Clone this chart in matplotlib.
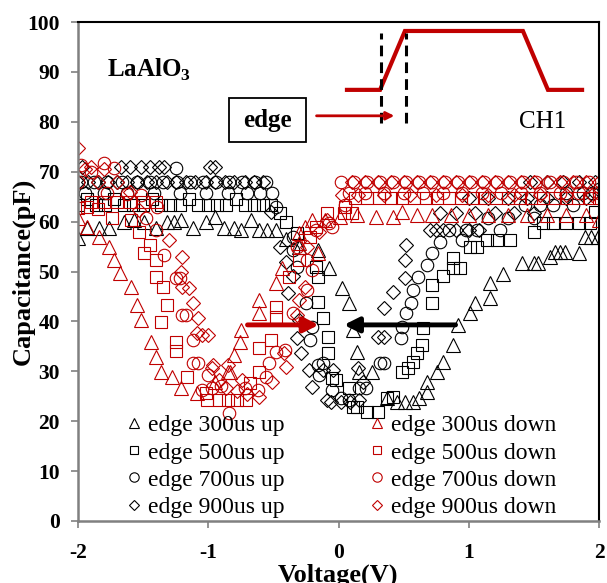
import numpy as np
import matplotlib
matplotlib.use("Agg")
import matplotlib.pyplot as plt
from matplotlib.patches import Rectangle

plt.rcParams['font.family'] = ['Liberation Serif', 'DejaVu Serif']
plt.rcParams['mathtext.fontset'] = 'custom'
plt.rcParams['mathtext.rm'] = 'Liberation Serif:bold'
plt.rcParams['mathtext.bf'] = 'Liberation Serif:bold'
plt.rcParams['axes.unicode_minus'] = False

RED = '#C00000'

# ---- up sweeps (black) ----
v_300_up = [-2.0, -1.93, -1.84, -1.76, -1.65, -1.57, -1.49, -1.4, -1.32, -1.26, -1.21, -1.12,
            -1.02, -0.95, -0.88, -0.8, -0.75, -0.67, -0.61, -0.55, -0.48, -0.4, -0.3, -0.16,
            -0.07, 0.03, 0.08, 0.11, 0.14, 0.16, 0.26, 0.37, 0.45, 0.51, 0.57, 0.62, 0.68,
            0.68, 0.76, 0.8, 0.88, 0.92, 1.01, 1.05, 1.16, 1.16, 1.26, 1.41, 1.5, 1.53, 1.62,
            1.66, 1.7, 1.74, 1.85, 1.89, 1.94, 1.99]
c_300_up = [56.7, 58.7, 58.7, 58.7, 60.0, 60.3, 60.0, 58.7, 60.0, 60.0, 60.3, 58.7,
            60.0, 61.0, 58.7, 58.7, 58.3, 60.3, 58.3, 58.3, 58.3, 56.5, 55.0, 54.3,
            50.7, 46.7, 43.7, 38.3, 33.9, 29.9, 29.9, 24.6, 23.8, 23.8, 23.8, 24.6, 25.9,
            27.9, 29.9, 31.9, 35.3, 39.3, 41.7, 43.7, 44.7, 47.7, 49.5, 51.7, 51.7, 51.7, 52.9,
            53.9, 53.9, 53.9, 53.7, 57.0, 57.0, 57.0]

v_500_up = [-2.0, -1.93, -1.86, -1.79, -1.72, -1.65, -1.58, -1.5, -1.43, -1.36, -1.29, -1.22,
            -1.15, -1.08, -1.0, -0.93, -0.86, -0.79, -0.72, -0.65, -0.58, -0.52, -0.45, -0.4,
            -0.32, -0.17, -0.16, -0.16, -0.12, -0.08, -0.08, -0.05, -0.02, 0.08, 0.11, 0.14,
            0.22, 0.3, 0.37, 0.42, 0.49, 0.53, 0.57, 0.6, 0.64, 0.65, 0.72, 0.72, 0.8, 0.88,
            0.88, 0.93, 1.01, 1.06, 1.14, 1.22, 1.32, 1.5, 1.57, 1.65, 1.75, 1.85, 1.93, 1.97]
c_500_up = [63.3, 64.5, 63.3, 63.3, 64.5, 63.3, 63.3, 63.3, 64.5, 63.3, 63.3, 63.3,
            64.5, 63.3, 63.3, 63.3, 63.3, 64.5, 63.3, 63.3, 63.3, 63.3, 61.7, 60.0,
            57.7, 50.9, 48.9, 43.9, 40.7, 36.9, 33.7, 28.7, 28.3, 26.7, 22.8, 22.8,
            21.8, 21.8, 24.6, 24.8, 29.9, 30.7, 31.9, 33.7, 35.3, 38.7, 43.7, 47.3, 49.0, 50.7,
            52.7, 50.7, 55.0, 55.0, 56.3, 56.3, 56.3, 58.0, 59.7, 59.7, 59.7, 59.7, 59.7, 62.0]

v_700_up = [-1.98, -1.88, -1.78, -1.66, -1.55, -1.45, -1.35, -1.24, -1.14, -1.04, -0.94, -0.84,
            -0.74, -0.64, -0.56, -1.95, -1.8, -1.62, -1.42, -1.22, -1.02, -0.85, -0.7, -0.6,
            -0.51, -1.25, -0.48, -0.35, -0.35, -0.32, -0.25, -0.22, -0.2, -0.16, -0.12, -0.15,
            -0.05, 0.02, 0.08, 0.16, 0.21, 0.32, 0.35, 0.48, 0.49, 0.52, 0.56, 0.57, 0.61,
            0.68, 0.72, 0.78, 0.85, 0.95, 0.98, 1.06, 1.15, 1.24, 1.3, 1.43, 1.5, 1.55, 1.65,
            1.75, 1.8, 1.88, 1.95, 2.0]
c_700_up = [68.0, 68.0, 68.0, 68.0, 68.0, 68.0, 68.0, 68.0, 68.0, 68.0, 68.0, 68.0,
            68.0, 68.0, 68.0, 65.7, 65.7, 65.7, 65.7, 65.7, 65.7, 65.7, 65.7, 65.7,
            65.7, 70.7, 63.0, 56.9, 54.3, 50.9, 43.7, 36.3, 38.9, 31.3, 31.7, 29.3,
            26.3, 24.6, 24.2, 26.7, 26.7, 31.7, 31.7, 36.7, 38.9, 41.7, 43.7, 46.3, 48.9,
            51.3, 53.7, 55.9, 58.3, 56.3, 58.3, 58.3, 60.7, 58.3, 60.7, 63.3, 60.7, 63.3, 63.3,
            65.7, 63.3, 65.7, 65.7, 66.5]

v_900_up = [-1.97, -1.67, -1.6, -1.52, -1.45, -1.38, -1.34, -0.99, -0.95,
            -2.0, -1.92, -1.85, -1.77, -1.7, -1.62, -1.55, -1.47, -1.4, -1.32, -1.25, -1.17,
            -1.1, -1.02, -0.95, -0.87, -0.8, -0.72, -0.65, -0.58, -0.52, -0.45, -0.4, -0.35,
            -0.39, -0.3, -0.32, -0.29, -0.23, -0.2, -0.12, -0.09, -0.04, -0.06, 0.02, 0.09,
            0.16, 0.15, 0.19, 0.3, 0.35, 0.35, 0.42, 0.51, 0.51, 0.52, 0.7, 0.75, 0.8, 0.9,
            1.0, 1.08, 0.78, 0.9, 1.05, 1.2, 1.35, 1.5, 1.0, 1.15, 1.3, 1.45, 1.6, 1.75, 1.9,
            1.47, 1.6, 1.72, 1.85, 1.97]
c_900_up = [71.0, 71.0, 71.0, 71.0, 71.0, 71.0, 71.0, 71.0, 71.0,
            68.0, 68.0, 68.0, 68.0, 68.0, 68.0, 68.0, 68.0, 68.0, 68.0, 68.0, 68.0,
            68.0, 68.0, 68.0, 68.0, 68.0, 68.0, 68.0, 68.0, 62.0, 55.0, 52.0, 49.0,
            45.7, 40.3, 36.7, 33.7, 30.3, 26.9, 30.3, 24.2, 30.3, 23.8, 23.8, 23.8,
            24.2, 30.7, 27.9, 36.9, 36.9, 42.7, 45.9, 48.7, 52.3, 55.3, 58.3, 58.3, 58.3, 58.3,
            58.3, 58.3, 61.7, 61.7, 61.7, 61.7, 61.7, 61.7, 64.7, 64.7, 64.7, 64.7, 64.7, 64.7, 64.7,
            68.0, 68.0, 68.0, 68.0, 68.0]

# ---- down sweeps (red) ----
v_300_dn = [2.0, 1.9, 1.75, 1.6, 1.45, 1.3, 1.15, 1.0, 0.86, 0.72, 0.6, 0.49, 0.42, 0.29,
            0.14, 0.01, -0.1, -0.2, -0.26, -0.3, -0.16, -0.3, -0.43, -0.48, -0.61, -0.61,
            -0.75, -0.76, -0.8, -0.83, -0.85, -0.95, -1.09, -1.21, -1.28, -1.36, -1.4, -1.44,
            -1.52, -1.55, -1.59, -1.68, -1.72, -1.76, -1.84, -1.93, -2.0]
c_300_dn = [60.3, 61.3, 61.3, 61.3, 61.3, 61.3, 61.3, 61.3, 61.3, 61.3, 61.3, 61.9, 60.9, 60.9,
            61.3, 60.9, 60.3, 60.3, 58.9, 57.7, 53.7, 55.7, 50.7, 47.7, 44.3, 41.7,
            38.3, 35.9, 33.3, 29.9, 29.9, 27.9, 25.7, 26.7, 28.9, 29.9, 32.9, 35.9,
            40.3, 43.3, 46.9, 49.7, 52.3, 54.9, 56.9, 58.9, 60.7]

v_500_dn = [2.0, 1.92, 1.84, 1.75, 1.66, 1.57, 1.48, 1.39, 1.3, 1.21, 1.12, 1.03, 0.94, 0.85,
            0.76, 0.67, 0.58, 0.49, 0.4, 0.31, 0.22, 0.13, 0.04, 0.1, 0.05, -0.09, -0.17, -0.22,
            -0.3, -0.38, -0.48, -0.48, -0.52, -0.61, -0.61, -0.68, -0.71, -0.78, -0.85, -0.92,
            -1.01, -1.02, -1.16, -1.25, -1.25, -1.36, -1.32, -1.35, -1.4, -1.4, -1.49, -1.45,
            -1.53, -1.59, -1.74, -1.85, -1.93, -2.0, -1.9, -1.8, -1.7, -1.6, -1.5, -1.4]
c_500_dn = [64.7, 64.7, 64.7, 64.7, 64.7, 64.7, 64.7, 64.7, 64.7, 64.7, 64.7, 64.7, 64.7, 64.7,
            64.7, 64.7, 64.7, 64.7, 64.7, 64.7, 64.7, 64.7, 61.7, 61.7, 63.0, 61.7, 58.9, 57.0,
            52.3, 48.9, 42.9, 40.9, 36.3, 34.7, 29.9, 27.7, 24.2, 24.2, 24.2, 24.2,
            24.2, 25.7, 28.9, 35.9, 34.0, 39.9, 43.3, 46.9, 48.9, 52.3, 53.7, 55.3,
            57.9, 60.3, 60.7, 62.5, 63.0, 62.7, 64.0, 64.0, 64.0, 64.0, 64.0, 64.0]

v_700_dn = [0.02, 0.12, 0.22, 0.32, 0.42, 0.52, 0.62, 0.72, 0.82, 0.92, 1.02, 1.12, 1.22, 1.32,
            1.42, 1.52, 1.62, 1.72, 1.82, 1.92, 0.08, 0.2, 0.35, 0.5, 0.65, 0.8, 0.95, 1.1,
            1.25, 1.4, 1.55, 1.7, 1.85, 2.0, 0.05, -0.07, -0.05, -0.17, -0.24, -0.2, -0.32,
            -0.24, -0.35, -0.41, -0.48, -0.53, -0.56, -0.62, -0.72, -0.84, -0.97, -1.05, -0.9,
            -1.0, -1.08, -1.12, -1.12, -1.2, -1.17, -1.22, -1.25, -1.34, -1.4, -1.48, -1.39,
            -1.52, -1.62, -1.78, -1.72, -1.8, -1.9, -1.98, -2.0]
c_700_dn = [68.0, 68.0, 68.0, 68.0, 68.0, 68.0, 68.0, 68.0, 68.0, 68.0, 68.0, 68.0, 68.0, 68.0,
            68.0, 68.0, 68.0, 68.0, 68.0, 68.0, 65.7, 65.7, 65.7, 65.7, 65.7, 65.7, 65.7, 65.7,
            65.7, 65.7, 65.7, 65.7, 65.7, 65.7, 63.3, 59.7, 58.9, 58.3, 52.3, 50.3, 54.9,
            46.3, 41.7, 34.3, 33.9, 31.7, 28.9, 26.3, 26.7, 21.6, 26.7, 26.3, 27.0,
            29.3, 31.7, 36.3, 31.7, 41.3, 41.3, 48.7, 48.7, 53.3, 58.3, 60.7, 63.0,
            65.3, 65.5, 65.7, 70.7, 71.7, 70.0, 71.3, 68.0]

v_900_dn = [2.0, 1.9, 1.8, 1.7, 1.6, 1.5, 1.4, 1.3, 1.2, 1.1, 1.0, 0.9, 0.8, 0.7, 0.6, 0.5,
            0.4, 0.3, 0.2, 0.1, 1.95, 1.75, 1.55, 1.35, 1.15, 0.95, 0.75, 0.55, 0.35, 0.15,
            0.03, -0.09, -0.15, -0.24, -0.26, -0.3, -0.32, -0.42, -0.4, -0.51, -0.61, -0.7,
            -0.78, -0.86, -0.74, -0.85, -0.92, -0.96, -0.97, -1.0, -1.05, -1.08, -1.12, -1.15,
            -1.09, -1.2, -1.21, -1.2, -1.3, -1.53, -1.6, -1.7, -1.8, -1.9, -2.0, -1.95, -1.85]
c_900_dn = [68.0, 68.0, 68.0, 68.0, 68.0, 68.0, 68.0, 68.0, 68.0, 68.0, 68.0, 68.0, 68.0, 68.0,
            68.0, 68.0, 68.0, 68.0, 68.0, 68.0, 65.3, 65.3, 65.3, 65.3, 65.3, 65.3, 65.3, 65.3,
            65.3, 65.3, 65.3, 60.3, 58.0, 54.9, 46.9, 44.3, 41.3, 33.7, 30.9, 27.9, 24.8, 25.5,
            26.0, 26.7, 28.3, 31.3, 28.3, 31.3, 30.7, 37.3, 37.3, 40.7, 43.7, 46.7,
            37.7, 46.9, 49.9, 52.9, 56.3, 62.3, 66.0, 68.0, 70.5, 71.0, 74.7, 70.5, 68.0]

labels_up = ['edge 300us up', 'edge 500us up', 'edge 700us up', 'edge 900us up']
labels_dn = ['edge 300us down', 'edge 500us down', 'edge 700us down', 'edge 900us down']

# inset schematic (data coordinates)
wave_v = [0.065, 0.319, 0.51, 1.416, 1.608, 1.87]
wave_c = [86.4, 86.4, 98.2, 98.2, 86.4, 86.4]
dash_v = [0.33, 0.52]

fig = plt.figure(figsize=(6.07, 5.83), dpi=100)
ax = fig.add_axes([78 / 607, 1 - 521 / 583, 521 / 607, 499 / 583])

ups = [(v_300_up, c_300_up), (v_500_up, c_500_up), (v_700_up, c_700_up), (v_900_up, c_900_up)]
dns = [(v_300_dn, c_300_dn), (v_500_dn, c_500_dn), (v_700_dn, c_700_dn), (v_900_dn, c_900_dn)]
markers = ['^', 's', 'o', 'D']
sizes = [9.5, 8, 9, 7]

handles = []
for (v, c), m, s, lab in zip(ups, markers, sizes, labels_up):
    h, = ax.plot(v, c, ls='none', marker=m, ms=s, mfc='none', mec='black', mew=0.8, label=lab)
    handles.append(h)
for (v, c), m, s, lab in zip(dns, markers, sizes, labels_dn):
    h, = ax.plot(v, c, ls='none', marker=m, ms=s, mfc='none', mec=RED, mew=0.8, label=lab)
    handles.append(h)

# sweep direction arrows
ax.annotate('', xy=(-0.13, 39.3), xytext=(-0.72, 39.3),
            arrowprops=dict(arrowstyle='-|>', color=RED, lw=3.5, mutation_scale=22))
ax.annotate('', xy=(0.02, 39.3), xytext=(0.92, 39.3),
            arrowprops=dict(arrowstyle='-|>', color='black', lw=3.5, mutation_scale=22))

# inset: waveform schematic
ax.plot(wave_v, wave_c, color=RED, lw=3, solid_joinstyle='miter')
for dv in dash_v:
    ax.plot([dv, dv], [79.8, 97.8], color='black', lw=2.2, ls=(0, (3.5, 2)))
ax.annotate('', xy=(0.45, 81.2), xytext=(-0.19, 81.2),
            arrowprops=dict(arrowstyle='-|>', color=RED, lw=2, mutation_scale=12))
ax.add_patch(Rectangle((-0.84, 76.0), 0.59, 8.8, fill=False, ec='black', lw=1.3))
ax.text(-0.545, 80.2, 'edge', ha='center', va='center', fontsize=18, fontweight='bold')
ax.text(1.57, 80.0, 'CH1', ha='center', va='center', fontsize=18)
ax.text(-1.78, 90.4, r'LaAlO$_3$', ha='left', va='center', fontsize=18, fontweight='bold')

ax.set_xlim(-2, 2)
ax.set_ylim(0, 100)
ax.set_xticks([-2, -1, 0, 1, 2])
ax.set_yticks(np.arange(0, 101, 10))
for lab in ax.get_xticklabels() + ax.get_yticklabels():
    lab.set_fontweight('bold')
ax.tick_params(axis='y', direction='out', length=5, width=1.2, color='#808080',
               labelsize=15.5, pad=8)
ax.tick_params(axis='x', direction='out', length=5, width=1.2, color='#808080',
               labelsize=15.5, pad=11)
for side in ['left', 'bottom']:
    ax.spines[side].set_color('#808080')
    ax.spines[side].set_linewidth(1.8)
for side in ['top', 'right']:
    ax.spines[side].set_color('black')
    ax.spines[side].set_linewidth(1.5)

ax.set_xlabel('Voltage(V)', fontsize=19, fontweight='bold', labelpad=0)
ax.set_ylabel('Capacitance(pF)', fontsize=19, fontweight='bold', labelpad=-5)

ax.legend(handles=handles, ncol=2, loc='lower left', bbox_to_anchor=(0.062, -0.027),
          frameon=False, fontsize=17, markerscale=0.75, handlelength=0.6,
          handletextpad=0.3, columnspacing=3.6, labelspacing=0.24, borderpad=0.2)

fig.savefig('out.png', dpi=100)
